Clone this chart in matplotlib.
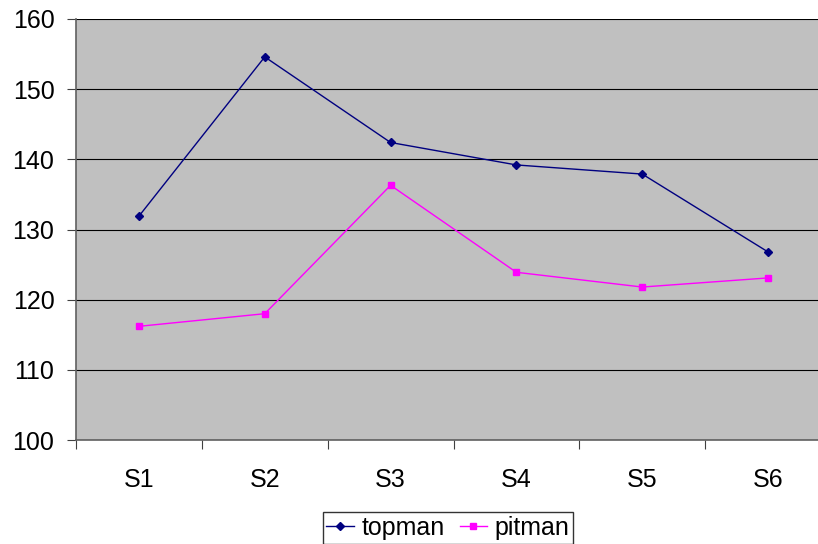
import matplotlib.pyplot as plt
from matplotlib.ticker import FixedLocator

plt.rcParams["font.family"] = ["Liberation Sans", "DejaVu Sans"]

categories = ["S1", "S2", "S3", "S4", "S5", "S6"]
topman = [131.9, 154.6, 142.4, 139.2, 137.9, 126.8]
pitman = [116.2, 118.0, 136.3, 123.9, 121.8, 123.1]

font_size = 18

fig = plt.figure(figsize=(8.18, 5.44), dpi=100)
# plot area runs a little past the right edge, as in the reference
ax = fig.add_axes([76 / 818, 104 / 544, 755 / 818, 421 / 544])
ax.set_facecolor("#C0C0C0")

x = list(range(len(categories)))
ax.plot(x, topman, color="#000080", marker="D", markersize=4.5, linewidth=1, label="topman")
ax.plot(x, pitman, color="#FF00FF", marker="s", markersize=5, linewidth=1, label="pitman")

ax.set_ylim(100, 160)
ax.set_yticks(range(100, 161, 10))
ax.yaxis.grid(True, color="black", linewidth=0.8)
ax.set_axisbelow(True)

ax.set_xlim(-0.5, len(categories) - 0.5)
ax.xaxis.set_major_locator(FixedLocator([i - 0.5 for i in range(len(categories) + 1)]))
ax.xaxis.set_minor_locator(FixedLocator(x))
ax.set_xticklabels([], minor=False)
ax.set_xticklabels(categories, minor=True)
ax.tick_params(axis="x", which="major", length=6.5, direction="out", color="#404040")
ax.tick_params(axis="x", which="minor", length=0, pad=20, labelsize=font_size)
ax.tick_params(axis="y", length=6.5, direction="out", color="#404040", labelsize=font_size, pad=9)

for side in ["top", "right"]:
    ax.spines[side].set_visible(False)
for side in ["left", "bottom"]:
    ax.spines[side].set_color("#606060")
    ax.spines[side].set_linewidth(1.2)

leg = fig.legend(
    loc="upper center",
    bbox_to_anchor=(448 / 818, 32 / 544),
    ncol=2,
    fontsize=font_size,
    frameon=True,
    fancybox=False,
    handlelength=1.1,
    handletextpad=0.3,
    columnspacing=0.6,
    borderpad=0.15,
    borderaxespad=0,
)
leg.get_frame().set_edgecolor("black")
leg.get_frame().set_linewidth(1)

plt.savefig("out.png", dpi=100)
